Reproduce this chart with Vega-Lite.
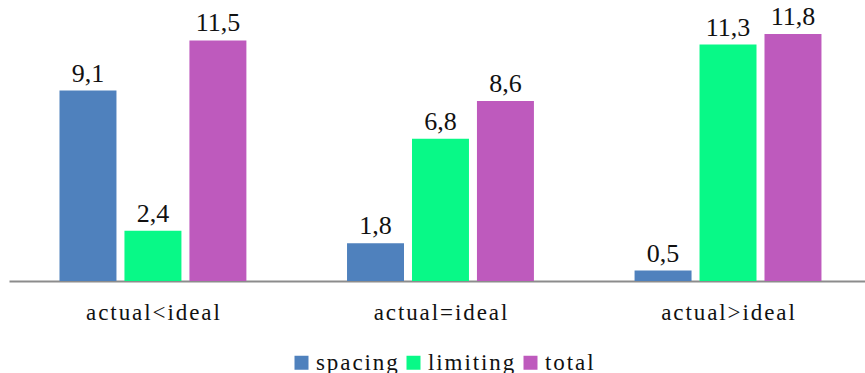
{
  "$schema": "https://vega.github.io/schema/vega-lite/v6.json",
  "autosize": "none",
  "width": 856,
  "height": 272,
  "padding": {"left": 9, "top": 9, "right": 0, "bottom": 92},
  "background": "white",
  "config": {"view": {"stroke": null}},
  "data": {
    "values": [
      {"case": "actual<ideal", "series": "spacing", "value": 9.1},
      {"case": "actual<ideal", "series": "limiting", "value": 2.4},
      {"case": "actual<ideal", "series": "total", "value": 11.5},
      {"case": "actual=ideal", "series": "spacing", "value": 1.8},
      {"case": "actual=ideal", "series": "limiting", "value": 6.8},
      {"case": "actual=ideal", "series": "total", "value": 8.6},
      {"case": "actual>ideal", "series": "spacing", "value": 0.5},
      {"case": "actual>ideal", "series": "limiting", "value": 11.3},
      {"case": "actual>ideal", "series": "total", "value": 11.8}
    ]
  },
  "transform": [
    {"calculate": "replace(format(datum.value, '.1f'), '.', ',')", "as": "label"}
  ],
  "encoding": {
    "x": {
      "field": "case",
      "type": "nominal",
      "sort": null,
      "title": null,
      "scale": {"paddingInner": 0.35, "paddingOuter": 0.1635, "align": 0.537},
      "axis": {
        "labelAngle": 0,
        "ticks": false,
        "domainColor": "#8c8c8c",
        "domainWidth": 2,
        "labelFont": "Liberation Serif",
        "labelFontSize": 23,
        "labelColor": "#111111",
        "labelBaseline": "alphabetic",
        "labelPadding": 38,
        "labelExpr": "join(split(datum.label, ''), '\u200a')"
      }
    },
    "xOffset": {
      "field": "series",
      "type": "nominal",
      "sort": ["spacing", "limiting", "total"],
      "scale": {"paddingInner": 0.123, "paddingOuter": 0}
    },
    "y": {
      "field": "value",
      "type": "quantitative",
      "scale": {"domain": [0, 13]},
      "axis": null
    }
  },
  "layer": [
    {
      "mark": {"type": "bar"},
      "encoding": {
        "color": {
          "field": "series",
          "type": "nominal",
          "sort": ["spacing", "limiting", "total"],
          "scale": {
            "domain": ["spacing", "limiting", "total"],
            "range": ["#4F81BD", "#08F987", "#BE5ABD"]
          },
          "legend": {
            "title": null,
            "orient": "none",
            "direction": "horizontal",
            "legendX": 281,
            "legendY": 342,
            "padding": 0,
            "symbolType": "square",
            "symbolSize": 196,
            "symbolStrokeWidth": 0,
            "symbolOpacity": 1,
            "labelFont": "Liberation Serif",
            "labelFontSize": 23,
            "labelColor": "#111111",
            "labelOffset": 3,
            "columnPadding": 4,
            "labelExpr": "join(split(datum.label, ''), '\u200a')"
          }
        }
      }
    },
    {
      "mark": {
        "type": "text",
        "baseline": "alphabetic",
        "dy": -9,
        "font": "Liberation Serif",
        "fontSize": 26,
        "color": "#111111"
      },
      "encoding": {
        "text": {"field": "label"}
      }
    }
  ]
}
